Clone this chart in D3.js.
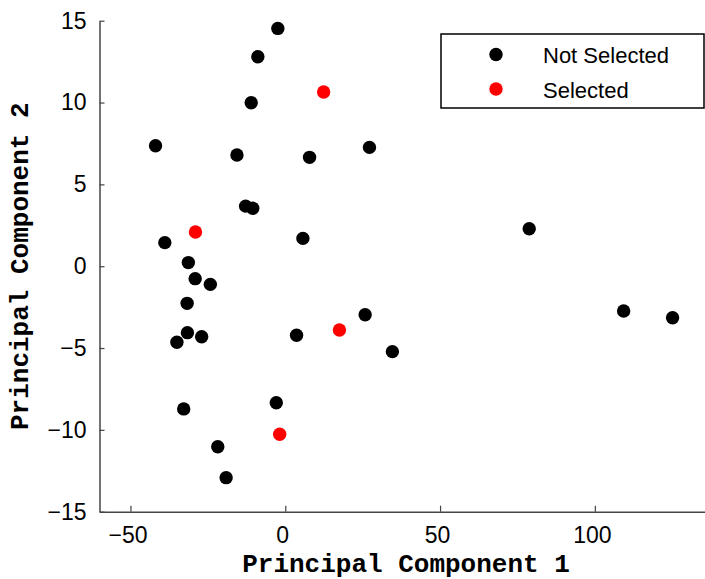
<!DOCTYPE html>
<html>
<head>
<meta charset="utf-8">
<script src="https://cdn.jsdelivr.net/npm/d3@7"></script>
<style>
  html, body { margin: 0; padding: 0; background: #fff; }
  svg { display: block; }
</style>
</head>
<body>
<svg id="chart" width="705" height="579"></svg>
<script>
// Principal component scores, split by selection status
const notSelectedPC1 = [-2.4, -8.85, -11.0, -41.9, -15.6, 7.85, 27.2, -12.8, -10.5, 5.7,
  -38.9, -31.3, -29.1, -24.2, -31.7, -31.6, -27.0, -35.0, 3.65, 25.8,
  34.6, -32.8, -2.9, -21.8, -19.1, 78.8, 109.3, 125.1];
const notSelectedPC2 = [14.53, 12.80, 9.99, 7.36, 6.79, 6.65, 7.26, 3.67, 3.54, 1.70,
  1.44, 0.22, -0.76, -1.11, -2.27, -4.06, -4.31, -4.65, -4.22, -2.97,
  -5.22, -8.72, -8.34, -11.03, -12.92, 2.29, -2.74, -3.15];
const selectedPC1 = [12.4, -29.0, 17.5, -1.8];
const selectedPC2 = [10.64, 2.09, -3.90, -10.27];

const xTicks = [-50, 0, 50, 100];
const yTicks = [-15, -10, -5, 0, 5, 10, 15];

const seriesNames = ["Not Selected", "Selected"];
const seriesColors = ["#000000", "#ff0000"];

const svg = d3.select("#chart");

const plot = { left: 99.5, top: 20.7, bottom: 511.7 };
const x = d3.scaleLinear().domain([-60, 138]).range([plot.left, plot.left + 198 * 3.096]);
const y = d3.scaleLinear().domain([-15, 15]).range([plot.bottom, plot.top]);

const tickFont = "'Liberation Sans', Arial, Helvetica, sans-serif";
const titleFont = "'Liberation Mono', 'Courier New', Courier, monospace";
const axisColor = "#444";

// x axis
const xAxis = svg.append("g")
  .attr("transform", `translate(0,${plot.bottom})`)
  .call(d3.axisBottom(x).tickValues(xTicks).tickSizeInner(-6).tickSizeOuter(0).tickPadding(15));

// y axis
const yAxis = svg.append("g")
  .attr("transform", `translate(${plot.left},0)`)
  .call(d3.axisLeft(y).tickValues(yTicks).tickSizeInner(-5).tickSizeOuter(0).tickPadding(13));

[xAxis, yAxis].forEach(g => {
  g.select(".domain").attr("stroke", axisColor).attr("stroke-width", 1.5);
  g.selectAll(".tick line").attr("stroke", axisColor).attr("stroke-width", 1.2);
  g.selectAll(".tick text")
    .attr("fill", "#000")
    .style("font-family", tickFont)
    .style("font-size", "23px");
});
xAxis.selectAll(".tick text").attr("dx", "-3");

// axis titles
svg.append("text")
  .attr("x", (x.range()[0] + x.range()[1]) / 2)
  .attr("y", 572)
  .attr("text-anchor", "middle")
  .style("font-family", titleFont)
  .style("font-weight", "bold")
  .style("font-size", "26px")
  .text("Principal Component 1");

svg.append("text")
  .attr("transform", `translate(28,${(plot.top + plot.bottom) / 2}) rotate(-90)`)
  .attr("text-anchor", "middle")
  .style("font-family", titleFont)
  .style("font-weight", "bold")
  .style("font-size", "26px")
  .text("Principal Component 2");

// points
const r = 6.7;
const series = [
  { xs: notSelectedPC1, ys: notSelectedPC2, color: seriesColors[0] },
  { xs: selectedPC1, ys: selectedPC2, color: seriesColors[1] }
];
series.forEach(s => {
  svg.append("g").selectAll("circle")
    .data(s.xs.map((v, i) => [v, s.ys[i]]))
    .join("circle")
    .attr("cx", d => x(d[0]))
    .attr("cy", d => y(d[1]))
    .attr("r", r)
    .attr("fill", s.color);
});

// legend
const legend = svg.append("g");
legend.append("rect")
  .attr("x", 441).attr("y", 34)
  .attr("width", 263).attr("height", 74)
  .attr("fill", "#fff")
  .attr("stroke", "#000")
  .attr("stroke-width", 1.5);
seriesNames.forEach((name, i) => {
  const cy = 54.5 + i * 34.5;
  legend.append("circle")
    .attr("cx", 496).attr("cy", cy).attr("r", r)
    .attr("fill", seriesColors[i]);
  legend.append("text")
    .attr("x", 543).attr("y", cy + 8.5)
    .style("font-family", tickFont)
    .style("font-size", "22px")
    .attr("fill", "#000")
    .text(name);
});
</script>
</body>
</html>
